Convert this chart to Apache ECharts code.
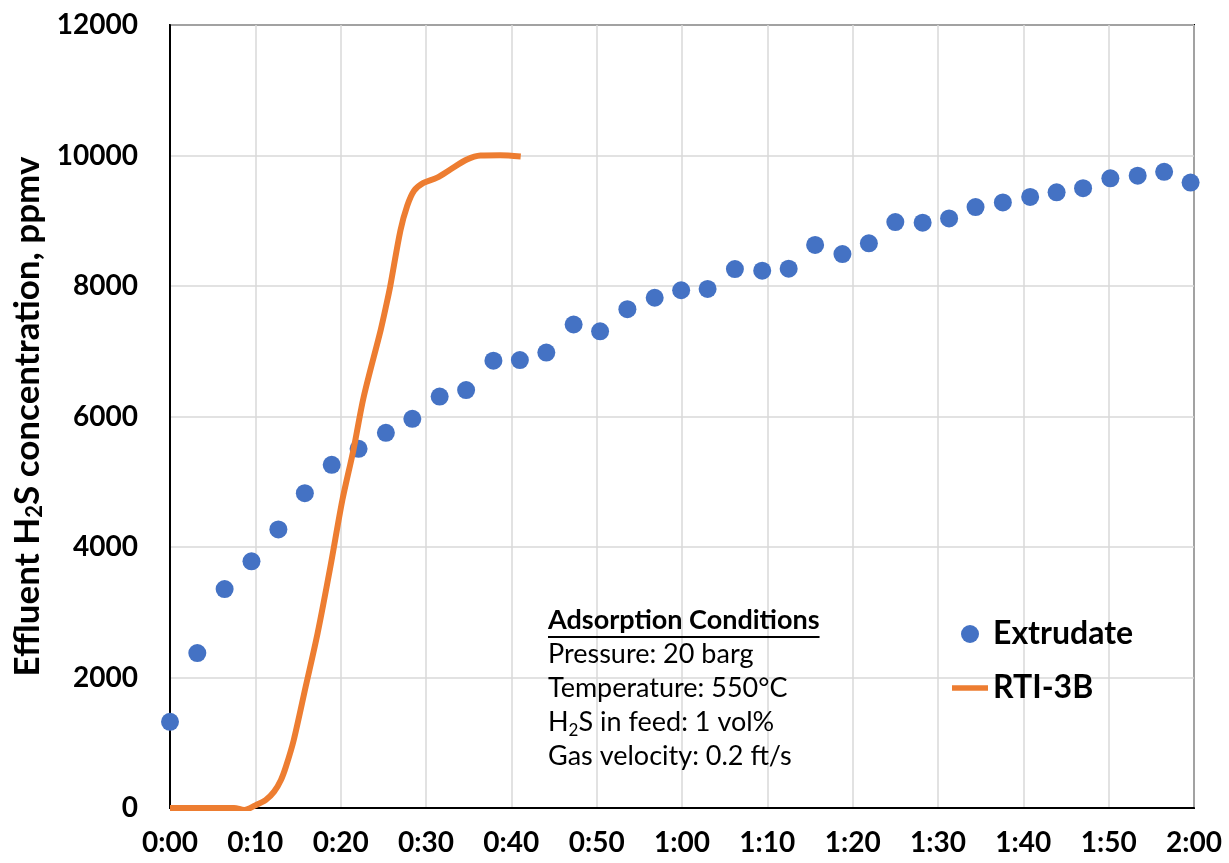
<!DOCTYPE html>
<html>
<head>
<meta charset="utf-8">
<script src="https://cdn.jsdelivr.net/npm/echarts@6/dist/echarts.min.js"></script>
<style>
html,body{margin:0;padding:0;background:#fff;}
#chart{width:1229px;height:863px;}
</style>
</head>
<body>
<div id="chart"></div>
<script>
// Extrudate: time (minutes) and effluent H2S (ppmv)
const extrudateTime = [0, 3.2, 6.4, 9.55, 12.7, 15.8, 18.95, 22.1, 25.3, 28.4, 31.6, 34.7, 37.9, 41.0, 44.1, 47.3, 50.4, 53.6, 56.8, 59.9, 63.0, 66.2, 69.4, 72.5, 75.6, 78.8, 81.9, 85.0, 88.2, 91.3, 94.4, 97.6, 100.8, 103.9, 107.0, 110.2, 113.4, 116.5, 119.6];
const extrudatePpmv = [1320, 2375, 3355, 3780, 4270, 4825, 5260, 5505, 5750, 5965, 6305, 6405, 6855, 6865, 6980, 7410, 7305, 7645, 7820, 7935, 7955, 8260, 8235, 8265, 8630, 8490, 8655, 8980, 8970, 9035, 9210, 9280, 9365, 9435, 9500, 9650, 9690, 9750, 9585];
// RTI-3B: time (minutes) and effluent H2S (ppmv)
const rtiTime = [0, 4, 7.5, 8.7, 10.0, 11.2, 12.2, 13.0, 13.6, 14.5, 15.9, 17.3, 18.8, 20.2, 21.5, 22.7, 24.7, 25.4, 25.8, 27.0, 27.8, 28.6, 29.7, 31.3, 32.9, 34.8, 36.4, 38.7, 41.1];
const rtiPpmv = [0, 0, 0, -30, 40, 120, 250, 430, 640, 1040, 1860, 2680, 3700, 4720, 5490, 6300, 7330, 7740, 7990, 8850, 9230, 9460, 9580, 9660, 9790, 9940, 10000, 10005, 9985];

const xTickLabels = ['0:00','0:10','0:20','0:30','0:40','0:50','1:00','1:10','1:20','1:30','1:40','1:50','2:00'];
const yTickLabels = ['0','2000','4000','6000','8000','10000','12000'];
const seriesNames = ['Extrudate', 'RTI-3B'];
const conditionsTitle = 'Adsorption Conditions';
const conditionLines = ['Pressure: 20 barg', 'Temperature: 550°C', ['H', '2', 'S in feed: 1 vol%'], 'Gas velocity: 0.2 ft/s'];

const FONT = 'Lato, "Open Sans", sans-serif';
const chart = echarts.init(document.getElementById('chart'));

const boxLeft = 548, boxTop = 607, lineH = 34, boxFont = 27;
const ctx = document.createElement('canvas').getContext('2d');
ctx.font = 'bold ' + boxFont + 'px Lato';
const headW = ctx.measureText(conditionsTitle).width;

let boxText = '{h|' + conditionsTitle + '}';
conditionLines.forEach(l => {
  if (Array.isArray(l)) boxText += '\n{t|' + l[0] + '}{s|' + l[1] + '}{t|' + l[2] + '}';
  else boxText += '\n{t|' + l + '}';
});

chart.setOption({
  animation: false,
  backgroundColor: '#fff',
  grid: { left: 170, right: 35, top: 25, bottom: 55, show: true, borderColor: '#000', borderWidth: 2, backgroundColor: 'transparent' },
  xAxis: {
    type: 'value', min: 0, max: 120, interval: 10,
    axisLine: { show: true, onZero: false, lineStyle: { color: '#000', width: 2 } },
    axisTick: { show: false },
    splitLine: { show: true, lineStyle: { color: '#d9d9d9', width: 1.5 } },
    axisLabel: { margin: 21, fontFamily: FONT, fontWeight: 'bold', fontSize: 28, color: '#000',
      formatter: v => xTickLabels[Math.round(v / 10)] }
  },
  yAxis: {
    type: 'value', min: 0, max: 12000, interval: 2000,
    name: 'Effluent H{sub|2}S concentration, ppmv',
    nameLocation: 'middle', nameGap: 124, nameRotate: 90,
    nameTextStyle: { fontFamily: FONT, fontWeight: 'bold', fontSize: 35, color: '#000',
      rich: { sub: { fontFamily: FONT, fontWeight: 'bold', fontSize: 22, color: '#000', verticalAlign: 'bottom', padding: [14, 0, 0, 0] } } },
    axisLine: { show: true, lineStyle: { color: '#000', width: 2 } },
    axisTick: { show: false },
    splitLine: { show: true, lineStyle: { color: '#d9d9d9', width: 1.5 } },
    axisLabel: { margin: 32, fontFamily: FONT, fontWeight: 'bold', fontSize: 28, color: '#000',
      formatter: v => yTickLabels[Math.round(v / 2000)] }
  },
  legend: {
    orient: 'vertical', left: 952, top: 617, padding: 0, itemGap: 20, itemWidth: 36, itemHeight: 18,
    textStyle: { fontFamily: FONT, fontWeight: 'bold', fontSize: 32, color: '#000', lineHeight: 34 },
    data: [{ name: seriesNames[0], icon: 'circle' }, { name: seriesNames[1], icon: 'path://M0,0L40,0L40,6L0,6Z' }]
  },
  series: [
    {
      name: seriesNames[0], type: 'scatter', symbol: 'circle', symbolSize: 18,
      itemStyle: { color: '#4472C4', opacity: 1 },
      data: extrudateTime.map((t, i) => [t, extrudatePpmv[i]])
    },
    {
      name: seriesNames[1], type: 'line', symbol: 'none', smooth: 0.3,
      lineStyle: { color: '#ED7D31', width: 6 }, itemStyle: { color: '#ED7D31' },
      data: rtiTime.map((t, i) => [t, rtiPpmv[i]])
    }
  ],
  graphic: [
    {
      type: 'text', left: boxLeft, top: boxTop, z: 100,
      style: {
        text: boxText,
        rich: {
          h: { fontFamily: FONT, fontWeight: 'bold', fontSize: boxFont, lineHeight: lineH, fill: '#000' },
          t: { fontFamily: FONT, fontSize: boxFont, lineHeight: lineH, fill: '#000' },
          s: { fontFamily: FONT, fontSize: 17, lineHeight: lineH, fill: '#000', verticalAlign: 'bottom' }
        }
      }
    },
    {
      type: 'line', z: 100,
      shape: { x1: boxLeft, y1: boxTop + 30, x2: boxLeft + headW, y2: boxTop + 30 },
      style: { stroke: '#000', lineWidth: 2 }
    }
  ]
});
</script>
</body>
</html>
